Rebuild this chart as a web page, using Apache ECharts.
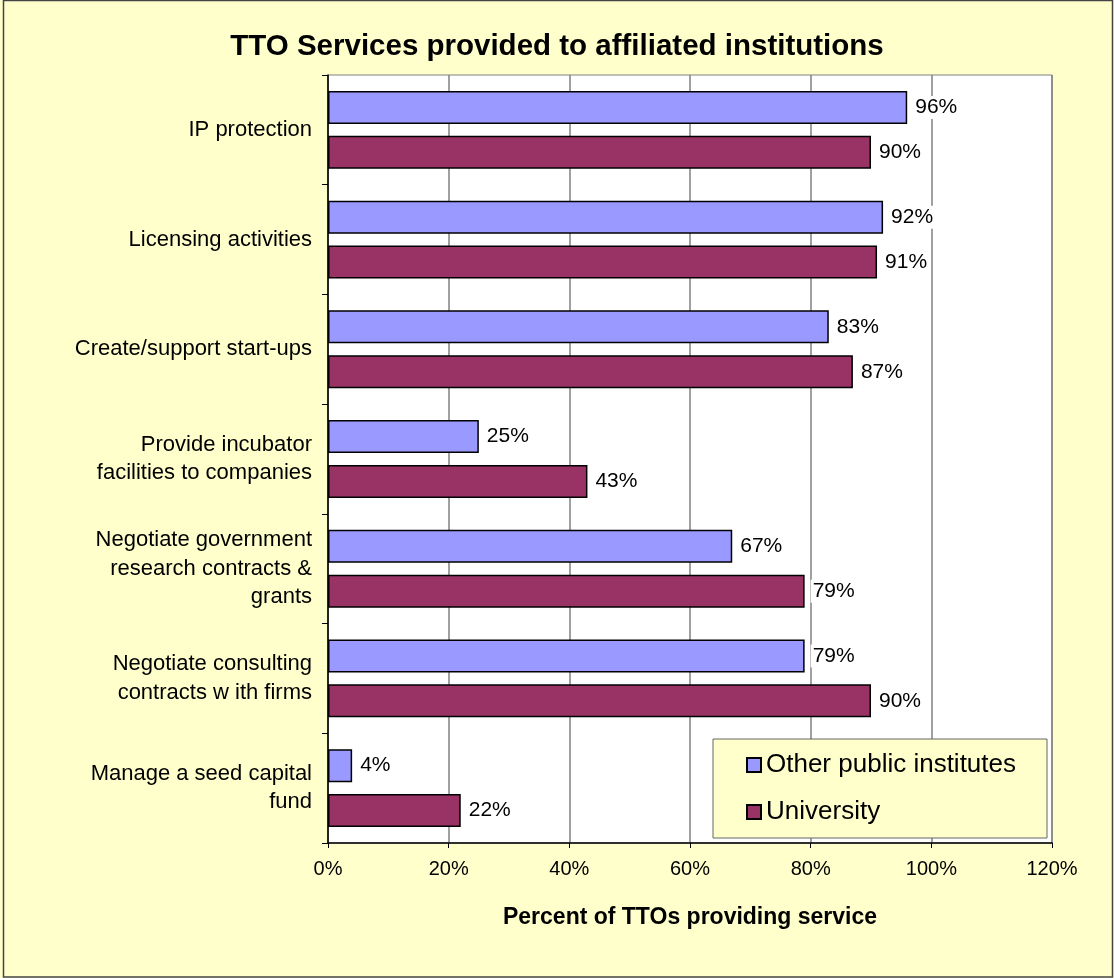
<!DOCTYPE html>
<html>
<head>
<meta charset="utf-8">
<script src="https://cdn.jsdelivr.net/npm/echarts@6/dist/echarts.min.js"></script>
<style>
  html, body { margin: 0; padding: 0; background: #FFFFCC; }
  #tto { width: 1114px; height: 978px; }
</style>
</head>
<body>
<div id="tto"></div>
<script>
// categories, top to bottom
var services = [
  'IP protection',
  'Licensing activities',
  'Create/support start-ups',
  'Provide incubator\nfacilities to companies',
  'Negotiate government\nresearch contracts &\ngrants',
  'Negotiate consulting\ncontracts w ith firms',
  'Manage a seed capital\nfund'
];
var otherPublic = [96, 92, 83, 25, 67, 79, 4];
var university = [90, 91, 87, 43, 79, 90, 22];
var xTicks = [0, 20, 40, 60, 80, 100, 120];

var chartDom = document.getElementById('tto');
var myChart = echarts.init(chartDom);

var fontFam = '"Liberation Sans", Arial, sans-serif';

var barLabel = {
  show: true,
  position: 'right',
  distance: 6,
  formatter: '{c}%',
  color: '#000',
  fontSize: 21,
  fontFamily: fontFam,
  backgroundColor: '#fff',
  padding: [1, 2]
};

var option = {
  backgroundColor: '#FFFFCC',
  animation: false,
  title: {
    text: 'TTO Services provided to affiliated institutions',
    left: 'center',
    top: 27,
    textStyle: { fontSize: 29.5, fontWeight: 'bold', color: '#000', fontFamily: fontFam }
  },
  graphic: [{
    type: 'rect',
    shape: { x: 3.5, y: 0.5, width: 1109, height: 976.5 },
    style: { fill: 'none', stroke: '#444', lineWidth: 1.5 },
    silent: true
  }],
  legend: {
    orient: 'vertical',
    left: 713,
    top: 739,
    padding: [13, 31, 13, 33],
    itemGap: 21,
    itemWidth: 14,
    itemHeight: 14,
    backgroundColor: '#FFFFCC',
    borderColor: '#666',
    borderWidth: 1,
    textStyle: { fontSize: 26, color: '#000', fontFamily: fontFam },
    data: [
      { name: 'Other public institutes', icon: 'rect' },
      { name: 'University', icon: 'rect' }
    ]
  },
  grid: {
    left: 328,
    right: 62,
    top: 75,
    bottom: 135,
    show: true,
    backgroundColor: '#fff',
    borderColor: '#808080',
    borderWidth: 1
  },
  xAxis: {
    type: 'value',
    min: xTicks[0],
    max: xTicks[xTicks.length - 1],
    interval: 20,
    name: 'Percent of TTOs providing service',
    nameLocation: 'middle',
    nameGap: 63,
    nameTextStyle: { fontSize: 23, fontWeight: 'bold', color: '#000', fontFamily: fontFam },
    axisLine: { show: true, lineStyle: { color: '#000', width: 1.5 } },
    axisTick: { show: true, length: 5, lineStyle: { color: '#000' } },
    axisLabel: { formatter: '{value}%', fontSize: 20, color: '#000', margin: 16, fontFamily: fontFam },
    splitLine: { show: true, lineStyle: { color: '#808080', width: 1.5 } }
  },
  yAxis: {
    type: 'category',
    inverse: true,
    data: services,
    axisLine: { show: true, lineStyle: { color: '#000', width: 1.5 } },
    axisTick: { show: true, length: 6, lineStyle: { color: '#000' } },
    axisLabel: {
      fontSize: 22,
      color: '#000',
      margin: 16,
      lineHeight: 28.5,
      align: 'right',
      fontFamily: fontFam
    }
  },
  series: [
    {
      name: 'Other public institutes',
      type: 'bar',
      data: otherPublic,
      barWidth: 33,
      barGap: '36%',
      itemStyle: { color: '#9999FF', borderColor: '#000', borderWidth: 1.5 },
      label: barLabel
    },
    {
      name: 'University',
      type: 'bar',
      data: university,
      barWidth: 33,
      barGap: '36%',
      itemStyle: { color: '#993366', borderColor: '#000', borderWidth: 1.5 },
      label: barLabel
    }
  ]
};

myChart.setOption(option);
</script>
</body>
</html>
